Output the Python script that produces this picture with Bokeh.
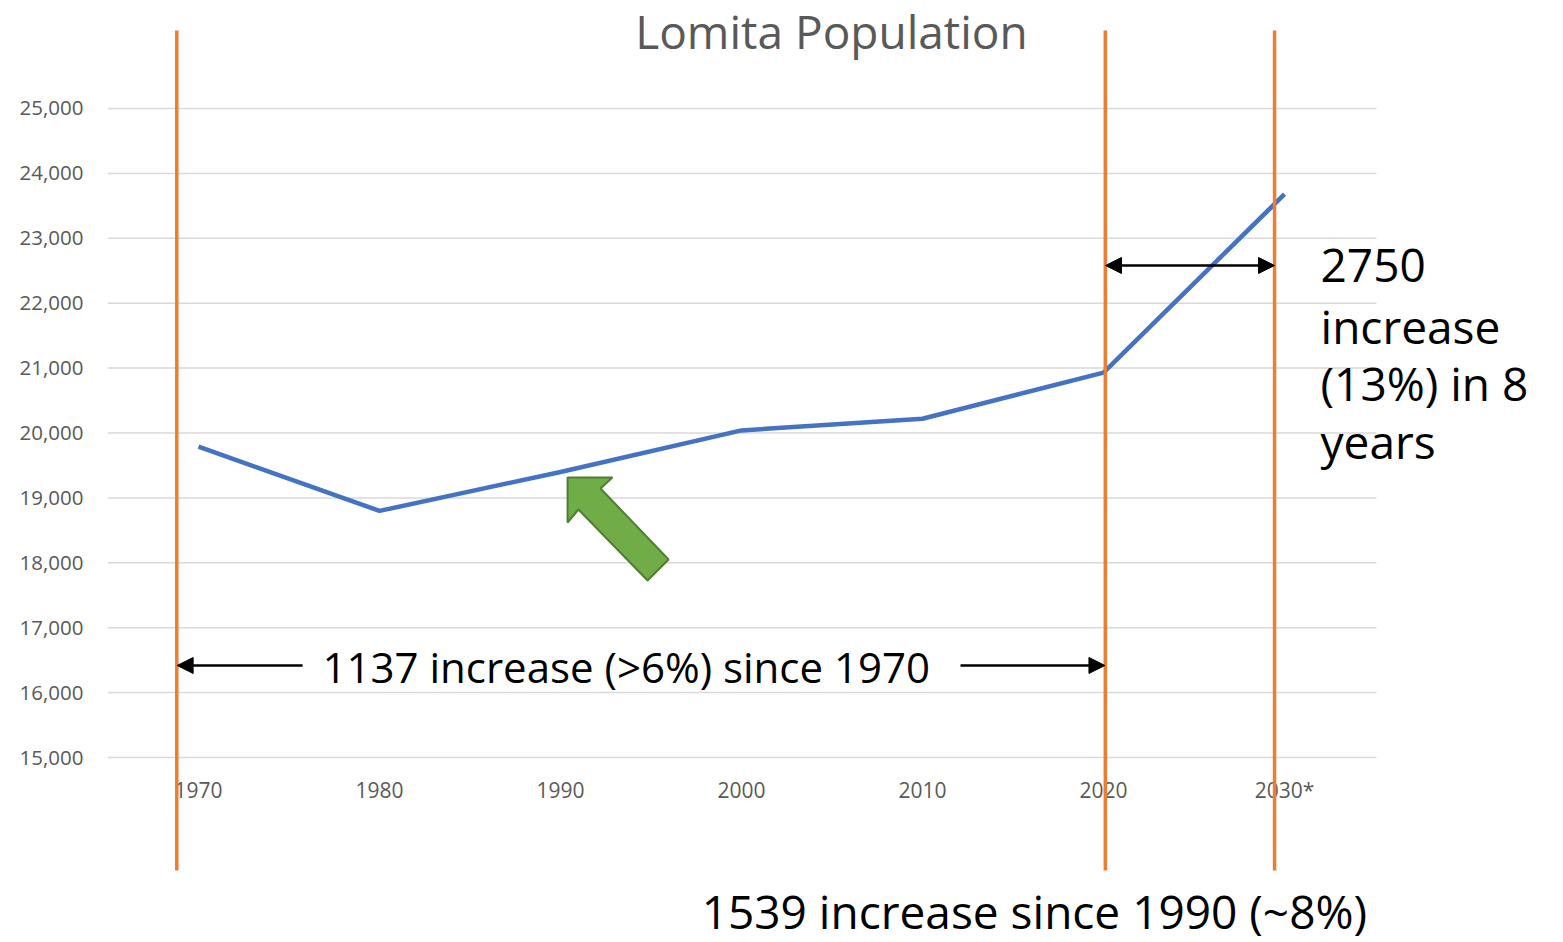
from bokeh.plotting import figure
from bokeh.models import (Range1d, FixedTicker, NumeralTickFormatter, Label,
                          Arrow, NormalHead)
from bokeh.core.properties import value
from bokeh.embed import file_html
from bokeh.resources import INLINE

# ---- data ----
categories = ["1970", "1980", "1990", "2000", "2010", "2020", "2030*"]
population = [19790, 18800, 19400, 20040, 20220, 20930, 23680]
y_ticks = [15000, 16000, 17000, 18000, 19000, 20000, 21000, 22000, 23000, 24000, 25000]
marker_years_idx = [-0.12, 5.01, 5.945]  # orange vertical markers (category index units)
green_arrow_x = [2.039, 2.287, 2.221, 2.597, 2.481, 2.099, 2.039]
green_arrow_y = [19314, 19314, 19145, 18051, 17727, 18821, 18621]

FONT = "Open Sans"
GRAY = "#595959"

p = figure(width=1563, height=942, output_backend="svg", toolbar_location=None,
           x_axis_type=None,
           x_range=Range1d(-0.5028, 7.5414), y_range=Range1d(12149.5, 26664),
           min_border_left=107, min_border_right=0, min_border_top=0, min_border_bottom=0)
p.outline_line_color = None
p.background_fill_color = "white"
p.border_fill_color = "white"

# y axis
yax = p.yaxis[0]
yax.ticker = FixedTicker(ticks=y_ticks)
yax.formatter = NumeralTickFormatter(format="0,0")
yax.axis_line_color = None
yax.major_tick_line_color = None
yax.minor_tick_line_color = None
yax.major_tick_out = 0
yax.major_label_standoff = 24
yax.major_label_text_font = FONT
yax.major_label_text_font_size = "20.5px"
yax.major_label_text_color = GRAY

# horizontal gridlines limited to the plot area
p.ygrid.visible = False
n = len(y_ticks)
p.segment(x0=[-0.503] * n, y0=y_ticks, x1=[6.508] * n, y1=y_ticks,
          line_color="#D9D9D9", line_width=1.5)

# x category labels
xs = list(range(len(categories)))
p.text(x=xs, y=[14492] * len(xs), text=categories, text_align="center",
       text_baseline="middle", text_font=value(FONT), text_font_size="21px",
       text_color=GRAY)

# population line
p.line(xs, population, line_color="#4472C4", line_width=4.5)

# orange markers
p.segment(x0=marker_years_idx, y0=[13259] * 3, x1=marker_years_idx, y1=[26202] * 3,
          line_color="#ED7D31", line_width=3.5)

# green block arrow
p.patch(green_arrow_x, green_arrow_y, fill_color="#70AD47", line_color="#507E32",
        line_width=2)

# black arrows
def head():
    return NormalHead(size=16, fill_color="black", line_color="black")

p.add_layout(Arrow(end=head(), start=head(), x_start=5.011, x_end=5.945,
                   y_start=22581, y_end=22581, line_width=2.5, line_color="black"))
p.add_layout(Arrow(end=head(), x_start=0.575, x_end=-0.118,
                   y_start=16418, y_end=16418, line_width=2.5, line_color="black"))
p.add_layout(Arrow(end=head(), x_start=4.21, x_end=5.008,
                   y_start=16418, y_end=16418, line_width=2.5, line_color="black"))

# texts
p.add_layout(Label(x=3.497, y=26200, text="Lomita Population", text_align="center",
                   text_baseline="middle", text_font=FONT, text_font_size="46px",
                   text_color=GRAY))
p.add_layout(Label(x=0.685, y=16402, text="1137 increase (>6%) since 1970",
                   text_align="left", text_baseline="middle", text_font=FONT,
                   text_font_size="42px", text_color="black"))
right_lines = ["2750", "increase", "(13%) in 8", "years"]
right_y = [22581, 21656, 20763, 19884]
for t, yy in zip(right_lines, right_y):
    p.add_layout(Label(x=6.199, y=yy, text=t, text_align="left", text_baseline="middle",
                       text_font=FONT, text_font_size="46px", text_color="black"))
p.add_layout(Label(x=2.78, y=12640, text="1539 increase since 1990 (~8%)",
                   text_align="left", text_baseline="middle", text_font=FONT,
                   text_font_size="46px", text_color="black"))

open("out.html", "w").write(file_html(p, INLINE))
